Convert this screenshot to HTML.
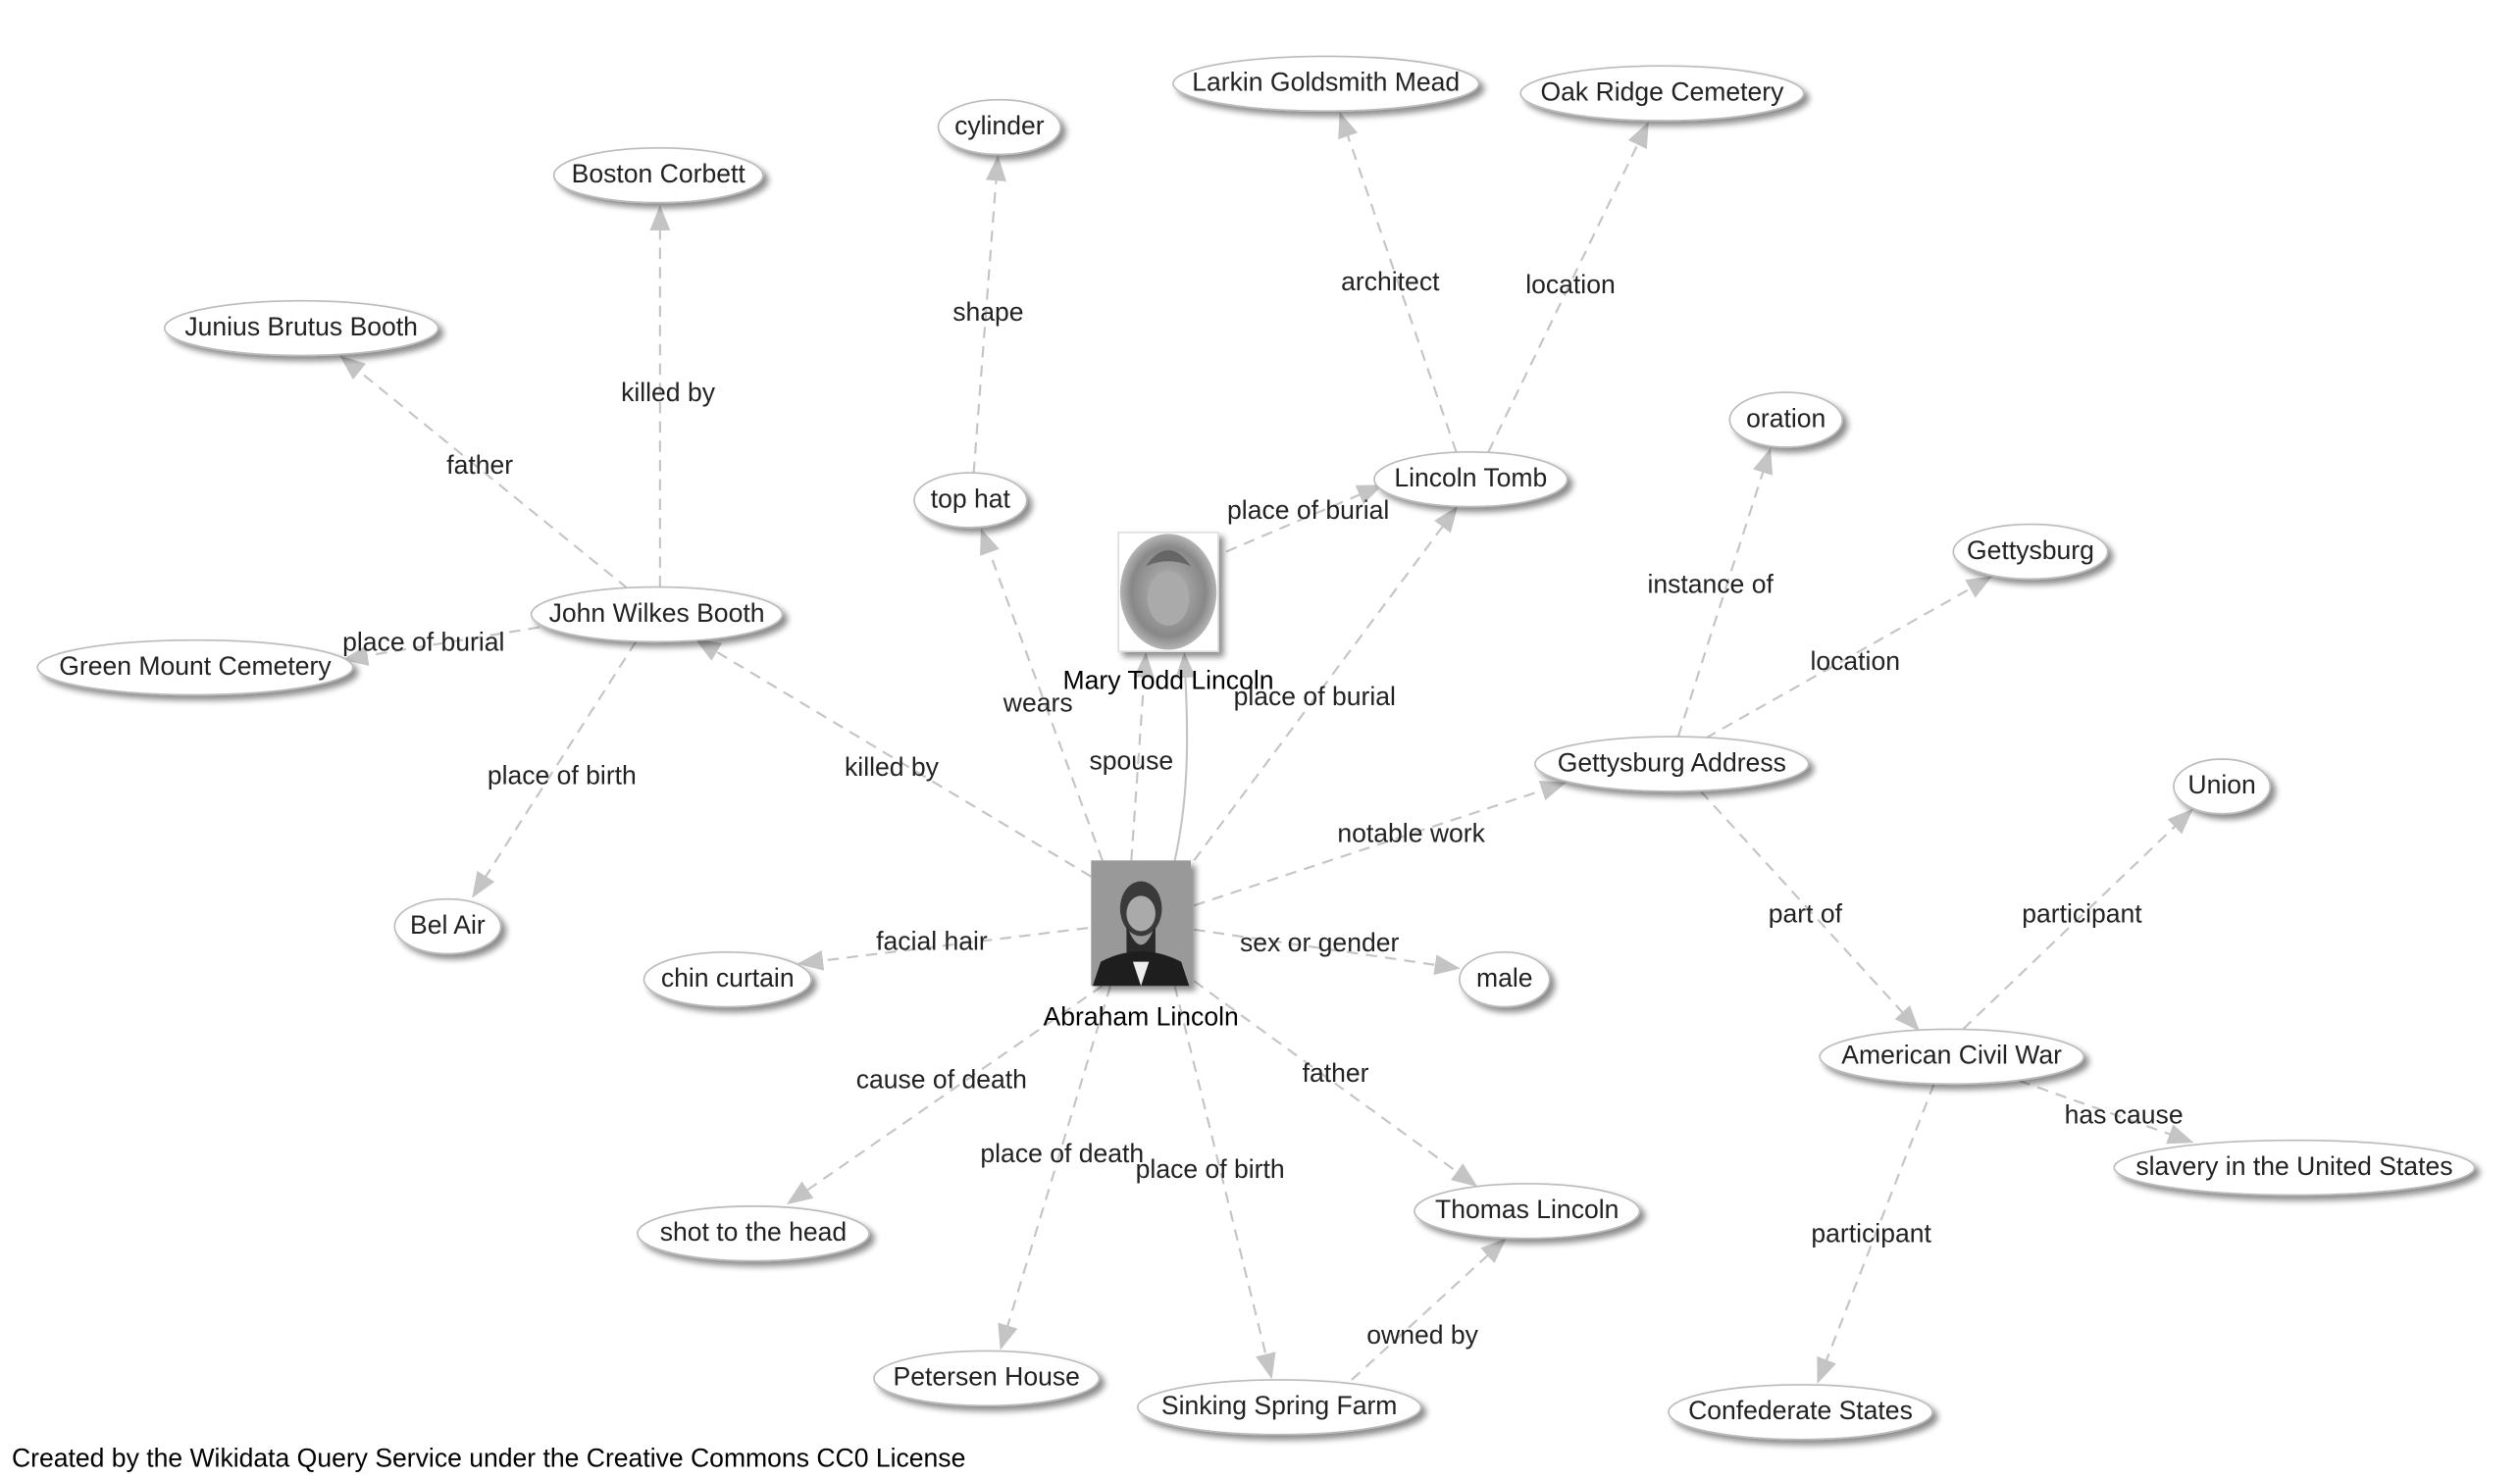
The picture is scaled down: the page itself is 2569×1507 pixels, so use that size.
<!DOCTYPE html>
<html><head><meta charset="utf-8"><style>
html,body{margin:0;padding:0;background:#fff}
svg{display:block}
text{font-family:"Liberation Sans",Arial,sans-serif;font-size:16.2px;fill:#222}
</style></head><body>
<svg width="2569" height="1507" viewBox="0 0 1566 919" xmlns="http://www.w3.org/2000/svg">
<defs>
<marker id="b" viewBox="0 0 10 10" refX="9" refY="5" markerWidth="16" markerHeight="16" orient="auto" markerUnits="userSpaceOnUse"><path d="M0,1 L10,5 L0,9 z" fill="#c4c4c4"/></marker>
<filter id="s" x="-20%" y="-40%" width="150%" height="190%"><feGaussianBlur in="SourceAlpha" stdDeviation="2"/><feOffset dx="3" dy="3"/><feComponentTransfer><feFuncA type="linear" slope="0.45"/></feComponentTransfer><feMerge><feMergeNode/><feMergeNode in="SourceGraphic"/></feMerge></filter>
<radialGradient id="mg" cx="50%" cy="50%" r="55%"><stop offset="0" stop-color="#bbb"/><stop offset="0.7" stop-color="#888"/><stop offset="1" stop-color="#c8c8c8"/></radialGradient>
</defs>
<g stroke="#c4c4c4" stroke-width="1.3" stroke-dasharray="7,5" fill="none" marker-end="url(#b)">
<line x1="678" y1="545" x2="433" y2="398"/>
<line x1="685" y1="535" x2="610" y2="330"/>
<line x1="703" y1="535" x2="712" y2="407"/>
<line x1="742" y1="535" x2="905" y2="316"/>
<line x1="762" y1="343" x2="858" y2="302"/>
<line x1="742" y1="563" x2="972" y2="487"/>
<line x1="742" y1="578" x2="906" y2="602"/>
<line x1="676" y1="577" x2="497" y2="599"/>
<line x1="685" y1="613" x2="490" y2="748"/>
<line x1="690" y1="613" x2="622" y2="838"/>
<line x1="730" y1="613" x2="790" y2="856"/>
<line x1="742" y1="610" x2="917" y2="737"/>
<line x1="840" y1="858" x2="935" y2="771"/>
<line x1="390" y1="366" x2="212" y2="222"/>
<line x1="410" y1="365" x2="410" y2="129"/>
<line x1="335" y1="390" x2="214" y2="410"/>
<line x1="395" y1="399" x2="294" y2="557"/>
<line x1="605" y1="294" x2="620" y2="98"/>
<line x1="905" y1="281" x2="833" y2="71"/>
<line x1="925" y1="281" x2="1024" y2="77"/>
<line x1="1043" y1="458" x2="1100" y2="280"/>
<line x1="1060" y1="459" x2="1237" y2="359"/>
<line x1="1057" y1="492" x2="1192" y2="640"/>
<line x1="1220" y1="640" x2="1362" y2="504"/>
<line x1="1255" y1="672" x2="1362" y2="710"/>
<line x1="1202" y1="674" x2="1130" y2="859"/>
</g>
<path d="M730,535 C740,490 738,450 736,407" stroke="#c4c4c4" stroke-width="1.3" fill="none" marker-end="url(#b)"/>
<g fill="#fff" stroke="#bbb" stroke-width="1" filter="url(#s)">
<ellipse cx="621" cy="79" rx="38" ry="17"/>
<ellipse cx="824" cy="52" rx="95" ry="17"/>
<ellipse cx="1033" cy="58" rx="88" ry="17"/>
<ellipse cx="409" cy="109" rx="65" ry="17"/>
<ellipse cx="187" cy="204" rx="85" ry="17"/>
<ellipse cx="1110" cy="261" rx="35" ry="17"/>
<ellipse cx="914" cy="298" rx="60" ry="17"/>
<ellipse cx="603" cy="311" rx="35" ry="17"/>
<ellipse cx="1262" cy="343" rx="48" ry="17"/>
<ellipse cx="408" cy="382" rx="78" ry="17"/>
<ellipse cx="121" cy="415" rx="98" ry="17"/>
<ellipse cx="1039" cy="475" rx="85" ry="17"/>
<ellipse cx="1381" cy="489" rx="30" ry="17"/>
<ellipse cx="278" cy="576" rx="33" ry="17"/>
<ellipse cx="452" cy="609" rx="52" ry="17"/>
<ellipse cx="935" cy="609" rx="28" ry="17"/>
<ellipse cx="1213" cy="657" rx="82" ry="17"/>
<ellipse cx="1426" cy="726" rx="112" ry="17"/>
<ellipse cx="949" cy="753" rx="70" ry="17"/>
<ellipse cx="468" cy="767" rx="72" ry="17"/>
<ellipse cx="613" cy="857" rx="70" ry="17"/>
<ellipse cx="795" cy="875" rx="88" ry="17"/>
<ellipse cx="1119" cy="878" rx="82" ry="17"/>
</g>
<g filter="url(#s)">
<rect x="695" y="331" width="62" height="74" fill="#fff" stroke="#ddd"/>
<rect x="678" y="535" width="62" height="78" fill="#999"/>
</g>
<ellipse cx="726" cy="368" rx="30" ry="36" fill="url(#mg)"/>
<ellipse cx="726" cy="372" rx="13" ry="17" fill="#aaa"/>
<path d="M712,352 Q726,332 740,352 Q726,346 712,352z" fill="#666"/>
<ellipse cx="709" cy="565" rx="13" ry="17" fill="#3a3a3a"/>
<ellipse cx="709" cy="568" rx="9" ry="11" fill="#aaa"/>
<path d="M700,575 Q709,600 718,575 L718,592 Q709,602 700,592z" fill="#2a2a2a"/>
<path d="M679,613 L684,598 Q709,585 734,598 L739,613z" fill="#1e1e1e"/>
<path d="M704,598 L709,613 L714,598z" fill="#eee"/>
<g text-anchor="middle" dominant-baseline="central" transform="translate(0,-1)">
<text x="621" y="79">cylinder</text>
<text x="824" y="52">Larkin Goldsmith Mead</text>
<text x="1033" y="58">Oak Ridge Cemetery</text>
<text x="409" y="109">Boston Corbett</text>
<text x="187" y="204">Junius Brutus Booth</text>
<text x="1110" y="261">oration</text>
<text x="914" y="298">Lincoln Tomb</text>
<text x="603" y="311">top hat</text>
<text x="1262" y="343">Gettysburg</text>
<text x="408" y="382">John Wilkes Booth</text>
<text x="121" y="415">Green Mount Cemetery</text>
<text x="1039" y="475">Gettysburg Address</text>
<text x="1381" y="489">Union</text>
<text x="278" y="576">Bel Air</text>
<text x="452" y="609">chin curtain</text>
<text x="935" y="609">male</text>
<text x="1213" y="657">American Civil War</text>
<text x="1426" y="726">slavery in the United States</text>
<text x="949" y="753">Thomas Lincoln</text>
<text x="468" y="767">shot to the head</text>
<text x="613" y="857">Petersen House</text>
<text x="795" y="875">Sinking Spring Farm</text>
<text x="1119" y="878">Confederate States</text>
<text x="726" y="424" style="fill:#000">Mary Todd Lincoln</text>
<text x="709" y="633" style="fill:#000">Abraham Lincoln</text>
<text x="554" y="478">killed by</text>
<text x="645" y="438">wears</text>
<text x="703" y="474">spouse</text>
<text x="817" y="434">place of burial</text>
<text x="813" y="318">place of burial</text>
<text x="877" y="519">notable work</text>
<text x="820" y="587">sex or gender</text>
<text x="579" y="586">facial hair</text>
<text x="585" y="672">cause of death</text>
<text x="660" y="718">place of death</text>
<text x="752" y="728">place of birth</text>
<text x="830" y="668">father</text>
<text x="884" y="831">owned by</text>
<text x="298" y="290">father</text>
<text x="415" y="245">killed by</text>
<text x="263" y="400">place of burial</text>
<text x="349" y="483">place of birth</text>
<text x="614" y="195">shape</text>
<text x="864" y="176">architect</text>
<text x="976" y="178">location</text>
<text x="1063" y="364">instance of</text>
<text x="1153" y="412">location</text>
<text x="1122" y="569">part of</text>
<text x="1294" y="569">participant</text>
<text x="1320" y="694">has cause</text>
<text x="1163" y="768">participant</text>
</g>
<text x="7" y="912" style="fill:#000">Created by the Wikidata Query Service under the Creative Commons CC0 License</text>
</svg>
</body></html>
